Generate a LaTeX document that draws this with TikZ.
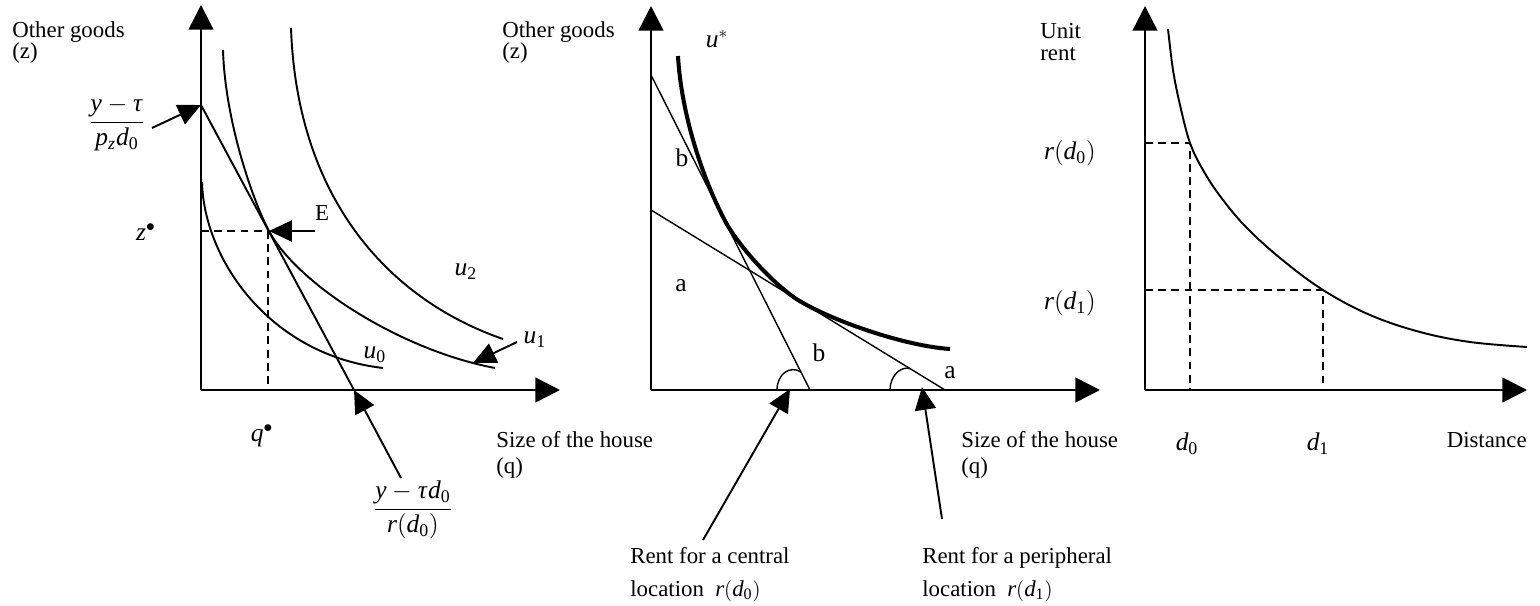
\documentclass[tikz,border=0pt]{standalone}
\usepackage{amsmath}
\usepackage{mathspec}
\setmainfont{Liberation Serif}
\setmathsfont(Digits,Latin,Greek){Liberation Serif}
\usetikzlibrary{arrows.meta}

\begin{document}
\begin{tikzpicture}[x=0.02cm,y=-0.02cm,font=\fontsize{13}{12}\selectfont,
  ax/.style={line width=1.5pt,-{Triangle[length=14pt,width=14pt]}},
  crv/.style={line width=1.1pt},
  thinln/.style={line width=0.8pt},
  ucrv/.style={line width=2.3pt},
  guide/.style={line width=1.1pt,dash pattern=on 4.5pt off 3pt},
  arr/.style={line width=1.1pt,-{Triangle[length=13pt,width=12pt]}},
  lbl/.style={inner sep=1pt,font=\fontsize{14.5}{14}\selectfont},
  txt/.style={align=left,anchor=north west,inner sep=0pt}]
\useasboundingbox (0,0) rectangle (1540,605);

% left panel: household choice at d0
\coordinate (o1) at (201,390);
\coordinate (y1) at (201,5);
\coordinate (x1) at (560,390);
\draw[ax] (o1) -- (y1);
\draw[ax] (o1) -- (x1);
\node[txt] (zax1) at (12,21) {Other goods\\(z)};
\node[txt] (qax1) at (496,431) {Size of the house\\[2.7pt](q)};

\coordinate (E) at (269,231);
\draw[crv] (202,182) .. controls (204,260) and (270,355) .. (383,368);
\draw[crv] (223,50) .. controls (225,120) and (252.5,200.2) .. (E)
  .. controls (297.4,283.9) and (400,350) .. (495,368);
\draw[crv] (291,28) .. controls (297,200) and (390,300) .. (503,339);

\coordinate (bt) at (201,105);
\coordinate (bx) at (354,390);
\coordinate (bl) at (401,478);
\draw[crv] (bt) -- (bx);
\draw[arr] (bl) -- (bx);
\coordinate (pa) at (152,128);
\draw[arr] (pa) -- (bt);
\node[lbl] (ltop) at (117,124) {$\dfrac{y-\tau}{p_z d_0}$};
\node[lbl] (lbot) at (413,510) {$\dfrac{y-\tau d_0}{r(d_0)}$};

\coordinate (ep) at (315,231);
\draw[guide] (E -| o1) -- (E);
\draw[guide] (268,231) -- (268,386);
\draw[arr] (ep) -- (E);
\node[inner sep=1pt] (elab) at (322,213) {E};
\node[lbl] (zs) at (146,232) {$z^{\bullet}$};
\node[lbl] (qs) at (262,436) {$q^{\bullet}$};

\node[lbl] (u0) at (375,355) {$u_0$};
\node[lbl] (u1) at (535,340) {$u_1$};
\node[lbl] (u2) at (466,272) {$u_2$};
\coordinate (u1p) at (517,342);
\coordinate (u1t) at (473,363);
\draw[arr] (u1p) -- (u1t);

% middle panel: two locations on one indifference curve
\coordinate (o2) at (651,390);
\coordinate (y2) at (651,6);
\coordinate (x2) at (1100,390);
\draw[ax] (o2) -- (y2);
\draw[ax] (o2) -- (x2);
\node[txt] (zax2) at (502,21) {Other goods\\(z)};
\node[txt] (qax2) at (961,431) {Size of the house\\[2.7pt](q)};

\coordinate (sb) at (651,75);
\coordinate (sx) at (810,390);
\coordinate (fa) at (651,210);
\coordinate (fx) at (945,390);
\draw[thinln] (sb) -- (sx);
\draw[thinln] (fa) -- (fx);
\draw[ucrv] (678,56) .. controls (681,110) and (700,172) .. (723,217)
  .. controls (736,244) and (774,285) .. (798,300)
  .. controls (832,321) and (905,346) .. (950,349);
\node[lbl] (ustar) at (717,39) {$u^{*}$};

\draw[thinln] (777,390) .. controls (777,374) and (790,365) .. (801,372);
\draw[thinln] (890,390) .. controls (890,375) and (902,365) .. (911,369);
\node[lbl] (b1) at (682,158) {b};
\node[lbl] (a1) at (681,286) {a};
\node[lbl] (b2) at (819,353) {b};
\node[lbl] (a2) at (950,373) {a};

\coordinate (pc) at (703,540);
\coordinate (tc) at (790,389);
\coordinate (pp) at (942,519);
\coordinate (tp) at (922,387);
\draw[arr] (pc) -- (tc);
\draw[arr] (pp) -- (tp);
\node[txt] (rc) at (630,547) {Rent for a central\\[6.7pt]location \ $r(d_0)$};
\node[txt] (rp) at (922,547) {Rent for a peripheral\\[6.7pt]location \ $r(d_1)$};

% right panel: rent gradient
\coordinate (o3) at (1145,390);
\coordinate (y3) at (1145,6);
\coordinate (x3) at (1527,390);
\draw[ax] (o3) -- (y3);
\draw[ax] (o3) -- (x3);
\node[txt] (rax) at (1040,23) {Unit\\[0.5pt]rent};
\node[inner sep=0pt,anchor=east] (dax) at (1527,440) {Distance};

\draw[crv] plot[smooth,tension=0.6] coordinates {(1168,29) (1173,70) (1180,105) (1190,143) (1203,170) (1220,196) (1245,226) (1280,258) (1323,290) (1370,315) (1420,332) (1470,342) (1527,347)};
\coordinate (r0) at (1190,143);
\coordinate (r1) at (1323,290);
\draw[guide] (r0 -| o3) -- (r0) -- (r0 |- o3);
\draw[guide] (r1 -| o3) -- (r1) -- (r1 |- o3);
\node[lbl] (rd0) at (1070,153) {$r(d_0)$};
\node[lbl] (rd1) at (1070,303) {$r(d_1)$};
\node[lbl] (d0) at (1187,444) {$d_0$};
\node[lbl] (d1) at (1318,444) {$d_1$};
\end{tikzpicture}
\end{document}
